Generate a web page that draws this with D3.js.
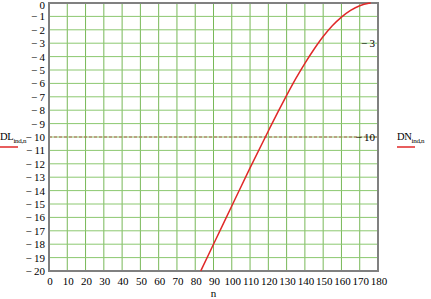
<!DOCTYPE html>
<html>
<head>
<meta charset="utf-8">
<script src="https://cdn.jsdelivr.net/npm/d3@7"></script>
<style>
  body { margin: 0; background: #fff; }
  text { font-family: "Liberation Serif", "Times New Roman", serif; font-size: 11px; fill: #000; }
</style>
</head>
<body>
<svg width="431" height="299"></svg>
<script>
// values
var nVals  = [83, 90, 100, 110, 120, 125, 130, 135, 140, 145, 150, 155, 160, 165, 170, 175, 176];
var dlVals = [-20, -18.0, -15.15, -12.3, -9.55, -8.2, -6.9, -5.65, -4.5, -3.45, -2.5, -1.7, -1.05, -0.55, -0.2, -0.02, 0];
var xTicks = d3.range(0, 181, 10);
var yTicks = d3.range(0, -21, -1);
var markers = [-3, -10];   // right-side marker labels

var svg = d3.select("svg");
var x = d3.scaleLinear().domain([0, 180]).range([49, 378]);
var y = d3.scaleLinear().domain([0, -20]).range([3, 271]);

// grid
svg.append("g").selectAll("line").data(xTicks).enter().append("line")
  .attr("x1", d => x(d)).attr("x2", d => x(d))
  .attr("y1", y(0)).attr("y2", y(-20))
  .attr("stroke", "#78b858").attr("stroke-width", 1);
svg.append("g").selectAll("line").data(yTicks).enter().append("line")
  .attr("x1", x(0)).attr("x2", x(180))
  .attr("y1", d => y(d)).attr("y2", d => y(d))
  .attr("stroke", "#8cc870").attr("stroke-width", 1);

// dashed marker line at -10
svg.append("line")
  .attr("x1", x(0)).attr("x2", x(180))
  .attr("y1", y(-10)).attr("y2", y(-10))
  .attr("stroke", "#b06050").attr("stroke-dasharray", "3,2").attr("stroke-width", 1);

// frame
svg.append("rect")
  .attr("x", x(0)).attr("y", y(0))
  .attr("width", x(180) - x(0)).attr("height", y(-20) - y(0))
  .attr("fill", "none").attr("stroke", "#808080").attr("stroke-width", 2);

// curve
var pts = nVals.map((n, i) => [n, dlVals[i]]);
svg.append("path").datum(pts)
  .attr("fill", "none").attr("stroke", "#e02828").attr("stroke-width", 1.5)
  .attr("d", d3.line().x(d => x(d[0])).y(d => y(d[1])).curve(d3.curveMonotoneX));

// y labels
svg.append("g").selectAll("text").data(yTicks).enter().append("text")
  .attr("x", 45).attr("y", d => d === 0 ? y(d) + 6 : y(d) + 4)
  .attr("text-anchor", "end")
  .text(d => d === 0 ? "0" : "\u2212\u2009" + (-d));

// x labels
svg.append("g").selectAll("text").data(xTicks).enter().append("text")
  .attr("x", d => x(d) + 1).attr("y", 285)
  .attr("text-anchor", "middle")
  .text(d => d);

svg.append("text").attr("x", x(90)).attr("y", 297).attr("text-anchor", "middle").text("n");

// right markers
svg.append("g").selectAll("text").data(markers).enter().append("text")
  .attr("x", 375).attr("y", d => y(d) + 4)
  .attr("text-anchor", "end")
  .text(d => "\u2212\u2009" + (-d));

// legends
function legend(xp, main, sub) {
  var t = svg.append("text").attr("x", xp).attr("y", y(-10) + 3)
    .style("font-size", "10.5px").style("letter-spacing", "-0.3px");
  t.append("tspan").text(main);
  t.append("tspan").attr("dy", 3).style("font-size", "7px").text(sub);
  svg.append("line").attr("x1", xp).attr("x2", xp + 18)
    .attr("y1", y(-10) + 10).attr("y2", y(-10) + 10)
    .attr("stroke", "#e02828").attr("stroke-width", 1.5);
}
legend(0, "DL", "ind,n");
legend(397, "DN", "ind,n");
</script>
</body>
</html>
